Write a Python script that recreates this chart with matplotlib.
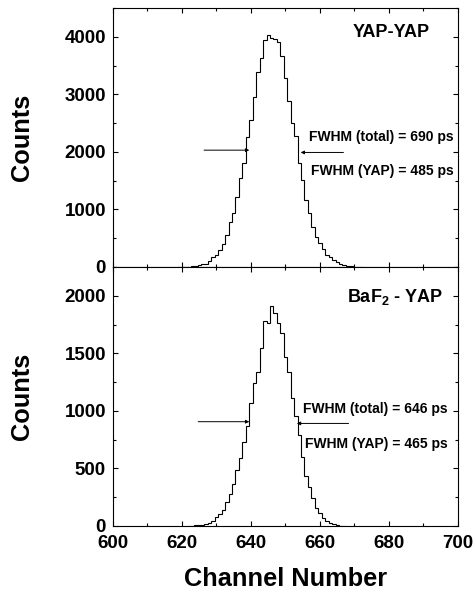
import numpy as np
import matplotlib
matplotlib.use("Agg")
from matplotlib import pyplot as plt
from matplotlib.ticker import MultipleLocator

# histogram data, one count per channel (bins centred on the channel)
top_start = 619
top_counts = [2, 3, 5, 8, 15, 25, 35, 50, 60, 100, 170, 215, 290, 405, 550,
              780, 930, 1220, 1540, 1815, 2260, 2550, 2960, 3390, 3630, 3950,
              4030, 3975, 3960, 3910, 3660, 3280, 2880, 2500, 2270, 1815,
              1510, 1170, 930, 700, 520, 420, 320, 200, 170, 115, 85, 60, 30,
              15, 10, 5, 3, 2]

bot_start = 622
bot_counts = [2, 3, 5, 8, 12, 20, 30, 45, 75, 105, 140, 205, 275, 365, 485,
              595, 730, 870, 1067, 1241, 1342, 1545, 1777, 1763, 1913, 1850,
              1763, 1676, 1470, 1340, 1108, 955, 790, 600, 434, 340, 240, 153,
              110, 67, 43, 29, 17, 9, 4, 2]

# FWHM arrows: (tip channel, tail channel, counts)
top_arrows = [(639.5, 626.4, 2030), (654.4, 666.8, 1990)]
bot_arrows = [(639.5, 624.7, 906), (653.3, 668.3, 891)]

plt.rcParams['font.family'] = ['Liberation Sans', 'DejaVu Sans']
plt.rcParams['font.weight'] = 'bold'
plt.rcParams['mathtext.fontset'] = 'custom'
plt.rcParams['mathtext.rm'] = 'Liberation Sans:bold'

fig = plt.figure(figsize=(4.74, 5.92), dpi=100)
ax1 = fig.add_axes([0.2384, 0.549, 0.7278, 0.4375])
ax2 = fig.add_axes([0.2384, 0.1115, 0.7278, 0.4375], sharex=ax1)


def draw_hist(ax, start, counts):
    ch = np.arange(start, start + len(counts))
    edges = np.append(ch - 0.5, ch[-1] + 0.5)
    ax.stairs(counts, edges, color='black', lw=0.8, baseline=None)


draw_hist(ax1, top_start, top_counts)
draw_hist(ax2, bot_start, bot_counts)

for ax, arrows in [(ax1, top_arrows), (ax2, bot_arrows)]:
    for tip, tail, y in arrows:
        ax.annotate('', xy=(tip, y), xytext=(tail, y),
                    arrowprops=dict(arrowstyle='-|>', lw=0.7, color='black',
                                    mutation_scale=5, shrinkA=0, shrinkB=0))

ax1.set_xlim(600, 700)
ax1.set_ylim(0, 4500)
ax2.set_ylim(0, 2250)

ax1.yaxis.set_major_locator(MultipleLocator(1000))
ax1.yaxis.set_minor_locator(MultipleLocator(500))
ax2.yaxis.set_major_locator(MultipleLocator(500))
ax2.yaxis.set_minor_locator(MultipleLocator(250))
ax2.xaxis.set_major_locator(MultipleLocator(20))
ax2.xaxis.set_minor_locator(MultipleLocator(10))

for ax in (ax1, ax2):
    ax.tick_params(which='both', direction='in', top=True, right=True,
                   width=0.8, labelsize=13.5)
    ax.tick_params(which='major', length=3.5, pad=5)
    ax.tick_params(which='minor', length=2)
    for s in ax.spines.values():
        s.set_linewidth(0.8)
ax1.tick_params(labelbottom=False)
ax2.tick_params(axis='x', pad=6.5)

# texts
ax1.text(0.919, 0.907, 'YAP-YAP', transform=ax1.transAxes, ha='right',
         va='center', fontsize=13, fontweight='bold')
ax1.text(0.988, 0.502, 'FWHM (total) = 690 ps', transform=ax1.transAxes,
         ha='right', va='center', fontsize=10, fontweight='bold')
ax1.text(0.988, 0.371, 'FWHM (YAP) = 485 ps', transform=ax1.transAxes,
         ha='right', va='center', fontsize=10, fontweight='bold')

ax2.text(0.957, 0.883, r'BaF$_\mathrm{2}$ - YAP', transform=ax2.transAxes,
         ha='right', va='center', fontsize=13, fontweight='bold')
ax2.text(0.971, 0.45, 'FWHM (total) = 646 ps', transform=ax2.transAxes,
         ha='right', va='center', fontsize=10, fontweight='bold')
ax2.text(0.971, 0.317, 'FWHM (YAP) = 465 ps', transform=ax2.transAxes,
         ha='right', va='center', fontsize=10, fontweight='bold')

fig.text(22 / 474, 1 - 137.5 / 592, 'Counts', rotation=90, ha='center',
         va='center', fontsize=18.3, fontweight='bold')
fig.text(22 / 474, 1 - 396.5 / 592, 'Counts', rotation=90, ha='center',
         va='center', fontsize=18.3, fontweight='bold')
fig.text(285.5 / 474, 1.5 / 592, 'Channel Number', ha='center',
         va='bottom', fontsize=18.3, fontweight='bold')

fig.savefig('out.png', dpi=100)
